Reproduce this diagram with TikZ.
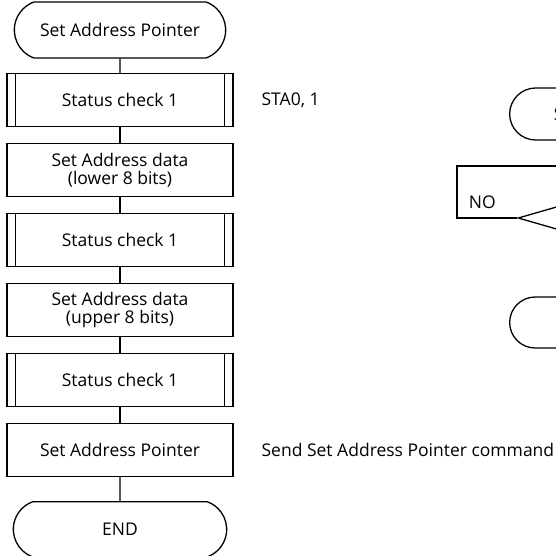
\documentclass[tikz,border=0pt]{standalone}
\usepackage{fontspec}
\setmainfont{Open Sans}
\usetikzlibrary{positioning,shapes.misc,shapes.geometric}

\tikzset{
  term/.style={rounded rectangle, rounded rectangle arc length=140, draw, minimum width=218pt, minimum height=56pt},
  termR/.style={rounded rectangle, draw, anchor=west, minimum width=160pt},
  proc/.style={rectangle, draw, minimum width=226pt, minimum height=53pt, align=center},
  subproc/.style={proc},
  note/.style={anchor=west},
}

\begin{document}
\begin{tikzpicture}[x=1pt,y=-1pt,node distance=70pt,line width=1.3pt,font=\fontsize{17.5}{17.5}\selectfont]
\clip (0,0) rectangle (556,555);

% main flow
\node[term] (start) at (120,30) {Set Address Pointer};
\node[subproc] (sc1)[below of = start] {Status check 1};
\node[proc] (lo)[below of = sc1] {Set Address data\\(lower 8 bits)};
\node[subproc] (sc2)[below of = lo] {Status check 1};
\node[proc] (hi)[below of = sc2] {Set Address data\\(upper 8 bits)};
\node[subproc] (sc3)[below of = hi] {Status check 1};
\node[proc] (sap)[below of = sc3] {Set Address Pointer};
\node[term, minimum width=220pt, minimum height=55pt] (end)[below=24pt of sap] {END};

\foreach \n in {sc1,sc2,sc3}{
  \draw ([xshift=9pt]\n.north west) -- ([xshift=9pt]\n.south west);
  \draw ([xshift=-9pt]\n.north east) -- ([xshift=-9pt]\n.south east);
}

\path
(start) edge (sc1)
(sc1) edge (lo)
(lo) edge (sc2)
(sc2) edge (hi)
(hi) edge (sc3)
(sc3) edge (sap)
(sap) edge (end)
;

% comments
\node[note] (sta)[right=24pt of sc1] {STA0, 1};
\node[note] (cmd)[right=24pt of sap] {Send Set Address Pointer command};

% status check routine (cut at the edge)
\node[termR, minimum height=52pt, label={[anchor=west,xshift=41pt]west:S}] (rstart) at (509,114) {};
\node[diamond, draw, minimum width=200pt, minimum height=58pt, inner sep=0pt] (rdec) at (618,218) {};
\node[termR, minimum height=51pt] (rend) at (509,322.5) {};

\coordinate (noA) at (457,218);
\coordinate (noB) at (457,166);
\coordinate (noC) at (620,166);
\draw (rdec.west) -- (noA) -- (noB) -- (noC);
\node[anchor=south west] (no) at ([xshift=8pt,yshift=5pt]noA) {NO};
\end{tikzpicture}
\end{document}
